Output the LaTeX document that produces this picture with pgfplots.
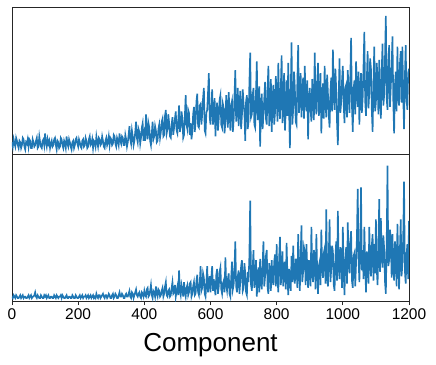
\documentclass[border=0pt]{standalone}
\usepackage{pgfplots}
\pgfplotsset{compat=1.18}
\usepackage{pgfplotstable}
\usepackage{fontspec}
\setmainfont{Liberation Sans}
\definecolor{tabblue}{RGB}{31,119,180}

% one value every 2.5 components, 0..1200
\pgfplotstableread[row sep=\\]{
y\\
0.08\\0.05\\0.10\\0.07\\0.05\\0.11\\0.09\\0.06\\0.04\\0.09\\0.08\\0.04\\0.06\\0.11\\0.10\\0.05\\0.03\\0.08\\0.07\\0.10\\
0.05\\0.10\\0.09\\0.04\\0.04\\0.10\\0.08\\0.05\\0.06\\0.09\\0.11\\0.04\\0.05\\0.12\\0.08\\0.05\\0.04\\0.09\\0.10\\0.06\\
0.14\\0.08\\0.05\\0.10\\0.07\\0.09\\0.04\\0.07\\0.09\\0.05\\0.06\\0.10\\0.11\\0.06\\0.03\\0.09\\0.08\\0.04\\0.05\\0.11\\
0.10\\0.06\\0.04\\0.09\\0.07\\0.04\\0.12\\0.07\\0.05\\0.10\\0.08\\0.05\\0.03\\0.08\\0.09\\0.04\\0.06\\0.10\\0.11\\0.07\\
0.05\\0.10\\0.08\\0.05\\0.04\\0.09\\0.10\\0.05\\0.06\\0.11\\0.09\\0.04\\0.05\\0.10\\0.12\\0.06\\0.07\\0.10\\0.04\\0.09\\
0.08\\0.05\\0.12\\0.08\\0.05\\0.11\\0.10\\0.06\\0.07\\0.12\\0.09\\0.05\\0.04\\0.09\\0.11\\0.06\\0.08\\0.12\\0.06\\0.11\\
0.10\\0.06\\0.07\\0.13\\0.12\\0.07\\0.05\\0.11\\0.09\\0.06\\0.14\\0.09\\0.07\\0.12\\0.11\\0.06\\0.06\\0.13\\0.10\\0.05\\
0.08\\0.13\\0.19\\0.10\\0.07\\0.16\\0.12\\0.06\\0.09\\0.15\\0.22\\0.11\\0.08\\0.17\\0.15\\0.07\\0.11\\0.18\\0.21\\0.09\\
0.14\\0.09\\0.27\\0.16\\0.10\\0.21\\0.18\\0.09\\0.06\\0.14\\0.22\\0.10\\0.12\\0.19\\0.16\\0.08\\0.09\\0.17\\0.20\\0.11\\
0.15\\0.22\\0.24\\0.12\\0.13\\0.26\\0.30\\0.14\\0.17\\0.27\\0.21\\0.12\\0.11\\0.20\\0.25\\0.13\\0.18\\0.24\\0.29\\0.16\\
0.14\\0.23\\0.33\\0.15\\0.19\\0.29\\0.24\\0.11\\0.13\\0.26\\0.40\\0.20\\0.17\\0.30\\0.28\\0.13\\0.21\\0.10\\0.15\\0.27\\
0.32\\0.15\\0.22\\0.36\\0.41\\0.19\\0.18\\0.33\\0.34\\0.20\\0.27\\0.38\\0.45\\0.16\\0.14\\0.28\\0.30\\0.42\\0.55\\0.25\\
0.20\\0.31\\0.44\\0.20\\0.26\\0.38\\0.12\\0.27\\0.35\\0.16\\0.24\\0.37\\0.40\\0.20\\0.18\\0.34\\0.31\\0.14\\0.22\\0.40\\
0.28\\0.18\\0.42\\0.30\\0.16\\0.33\\0.36\\0.15\\0.23\\0.40\\0.57\\0.22\\0.30\\0.45\\0.19\\0.31\\0.43\\0.17\\0.26\\0.44\\
0.34\\0.28\\0.09\\0.36\\0.40\\0.17\\0.22\\0.48\\0.69\\0.25\\0.27\\0.40\\0.45\\0.20\\0.18\\0.42\\0.63\\0.23\\0.30\\0.46\\
0.05\\0.30\\0.41\\0.17\\0.26\\0.38\\0.49\\0.24\\0.20\\0.44\\0.60\\0.19\\0.33\\0.51\\0.15\\0.36\\0.47\\0.20\\0.28\\0.53\\
0.38\\0.22\\0.62\\0.33\\0.24\\0.45\\0.67\\0.21\\0.35\\0.55\\0.16\\0.29\\0.50\\0.26\\0.62\\0.30\\0.04\\0.41\\0.76\\0.20\\
0.31\\0.56\\0.45\\0.22\\0.20\\0.49\\0.74\\0.28\\0.37\\0.55\\0.25\\0.42\\0.52\\0.24\\0.60\\0.35\\0.29\\0.50\\0.10\\0.36\\
0.45\\0.30\\0.22\\0.51\\0.38\\0.23\\0.69\\0.36\\0.27\\0.48\\0.62\\0.26\\0.33\\0.55\\0.14\\0.37\\0.48\\0.24\\0.60\\0.35\\
0.25\\0.54\\0.41\\0.26\\0.18\\0.43\\0.52\\0.29\\0.71\\0.40\\0.30\\0.58\\0.44\\0.21\\0.06\\0.39\\0.65\\0.28\\0.35\\0.50\\
0.60\\0.34\\0.21\\0.45\\0.47\\0.25\\0.57\\0.40\\0.28\\0.52\\0.79\\0.33\\0.15\\0.44\\0.50\\0.27\\0.63\\0.41\\0.32\\0.56\\
0.20\\0.44\\0.55\\0.28\\0.38\\0.60\\0.83\\0.36\\0.26\\0.51\\0.70\\0.31\\0.42\\0.65\\0.58\\0.30\\0.15\\0.48\\0.73\\0.29\\
0.35\\0.62\\0.50\\0.27\\0.64\\0.41\\0.24\\0.57\\0.75\\0.33\\0.40\\0.66\\0.94\\0.38\\0.30\\0.61\\0.74\\0.32\\0.46\\0.60\\
0.80\\0.36\\0.14\\0.47\\0.56\\0.29\\0.73\\0.42\\0.33\\0.61\\0.70\\0.35\\0.73\\0.40\\0.17\\0.52\\0.74\\0.38\\0.30\\0.55\\
0.58\\
}\topdata

\pgfplotstableread[row sep=\\]{
y\\
0.02\\0.01\\0.03\\0.02\\0.01\\0.03\\0.02\\0.01\\0.01\\0.02\\0.03\\0.01\\0.02\\0.03\\0.01\\0.02\\0.02\\0.01\\0.01\\0.02\\
0.03\\0.01\\0.02\\0.03\\0.01\\0.02\\0.02\\0.03\\0.05\\0.02\\0.01\\0.03\\0.02\\0.01\\0.01\\0.03\\0.02\\0.01\\0.01\\0.03\\
0.02\\0.03\\0.01\\0.02\\0.03\\0.01\\0.01\\0.02\\0.02\\0.01\\0.01\\0.03\\0.02\\0.01\\0.03\\0.02\\0.01\\0.02\\0.02\\0.03\\
0.01\\0.03\\0.02\\0.01\\0.01\\0.02\\0.03\\0.01\\0.01\\0.02\\0.02\\0.01\\0.01\\0.03\\0.02\\0.01\\0.01\\0.03\\0.02\\0.01\\
0.01\\0.02\\0.03\\0.01\\0.02\\0.03\\0.01\\0.02\\0.02\\0.03\\0.01\\0.02\\0.03\\0.01\\0.02\\0.03\\0.01\\0.02\\0.03\\0.01\\
0.02\\0.01\\0.04\\0.02\\0.01\\0.03\\0.03\\0.01\\0.02\\0.03\\0.04\\0.02\\0.01\\0.03\\0.03\\0.01\\0.02\\0.04\\0.03\\0.01\\
0.01\\0.03\\0.04\\0.01\\0.02\\0.04\\0.03\\0.01\\0.01\\0.03\\0.05\\0.02\\0.02\\0.04\\0.03\\0.01\\0.01\\0.03\\0.04\\0.02\\
0.02\\0.04\\0.06\\0.02\\0.01\\0.05\\0.04\\0.01\\0.03\\0.05\\0.07\\0.03\\0.02\\0.04\\0.05\\0.02\\0.01\\0.05\\0.04\\0.02\\
0.06\\0.03\\0.02\\0.07\\0.08\\0.02\\0.03\\0.06\\0.10\\0.03\\0.01\\0.06\\0.05\\0.02\\0.09\\0.04\\0.02\\0.07\\0.06\\0.02\\
0.03\\0.06\\0.08\\0.02\\0.04\\0.09\\0.12\\0.03\\0.02\\0.06\\0.07\\0.02\\0.03\\0.08\\0.12\\0.04\\0.05\\0.10\\0.02\\0.06\\
0.09\\0.03\\0.20\\0.06\\0.03\\0.10\\0.07\\0.02\\0.12\\0.05\\0.02\\0.08\\0.10\\0.03\\0.05\\0.11\\0.12\\0.02\\0.04\\0.09\\
0.12\\0.03\\0.04\\0.13\\0.17\\0.05\\0.03\\0.11\\0.23\\0.06\\0.08\\0.18\\0.15\\0.04\\0.02\\0.12\\0.23\\0.05\\0.10\\0.16\\
0.05\\0.15\\0.23\\0.06\\0.14\\0.08\\0.03\\0.17\\0.21\\0.04\\0.09\\0.19\\0.22\\0.07\\0.04\\0.11\\0.13\\0.05\\0.29\\0.10\\
0.06\\0.14\\0.18\\0.04\\0.02\\0.15\\0.26\\0.07\\0.10\\0.22\\0.40\\0.09\\0.05\\0.16\\0.20\\0.04\\0.12\\0.23\\0.27\\0.06\\
0.08\\0.25\\0.18\\0.05\\0.03\\0.19\\0.12\\0.30\\0.68\\0.10\\0.06\\0.22\\0.34\\0.08\\0.14\\0.27\\0.02\\0.15\\0.22\\0.05\\
0.28\\0.12\\0.07\\0.24\\0.40\\0.09\\0.16\\0.30\\0.34\\0.08\\0.04\\0.25\\0.20\\0.06\\0.27\\0.14\\0.10\\0.26\\0.31\\0.09\\
0.38\\0.14\\0.05\\0.29\\0.43\\0.10\\0.18\\0.33\\0.09\\0.22\\0.26\\0.07\\0.39\\0.17\\0.03\\0.21\\0.15\\0.06\\0.30\\0.12\\
0.37\\0.15\\0.11\\0.28\\0.24\\0.08\\0.45\\0.20\\0.06\\0.31\\0.51\\0.12\\0.19\\0.36\\0.33\\0.10\\0.38\\0.21\\0.08\\0.27\\
0.22\\0.09\\0.50\\0.18\\0.12\\0.34\\0.30\\0.07\\0.45\\0.19\\0.04\\0.23\\0.26\\0.10\\0.48\\0.21\\0.15\\0.32\\0.35\\0.11\\
0.62\\0.17\\0.09\\0.31\\0.55\\0.12\\0.21\\0.37\\0.33\\0.10\\0.06\\0.29\\0.40\\0.13\\0.61\\0.22\\0.14\\0.36\\0.28\\0.08\\
0.50\\0.20\\0.03\\0.27\\0.36\\0.11\\0.53\\0.24\\0.18\\0.40\\0.47\\0.13\\0.08\\0.30\\0.32\\0.09\\0.25\\0.42\\0.76\\0.28\\
0.12\\0.35\\0.77\\0.20\\0.34\\0.14\\0.50\\0.26\\0.05\\0.33\\0.29\\0.11\\0.50\\0.24\\0.16\\0.37\\0.45\\0.13\\0.38\\0.18\\
0.55\\0.21\\0.10\\0.36\\0.69\\0.19\\0.56\\0.30\\0.22\\0.44\\0.35\\0.12\\0.04\\0.38\\0.92\\0.23\\0.27\\0.48\\0.41\\0.15\\
0.45\\0.22\\0.13\\0.40\\0.33\\0.09\\0.52\\0.28\\0.07\\0.34\\0.55\\0.16\\0.24\\0.43\\0.81\\0.20\\0.11\\0.30\\0.38\\0.14\\
0.54\\
}\botdata

\begin{document}
\begin{tikzpicture}
\pgfplotsset{
    every axis/.style={
        scale only axis, width=397pt, height=147pt,
        xmin=0, xmax=1200, ymin=0, ymax=1,
        ytick=\empty,
        axis line style={black!85, line width=0.9pt},
    },
}
\begin{axis}[name=top, xtick=\empty]
\addplot[tabblue, line width=1.6pt] table[x expr=\coordindex*2.5, y=y] {\topdata};
\end{axis}
\begin{axis}[
    name=bot, at={(top.south west)}, anchor=north west,
    ymin=-0.01,
    xtick={0,200,...,1200},
    xtick pos=bottom, tick align=outside,
    major tick length=4pt,
    tick style={black!85, line width=0.9pt},
    ticklabel style={font=\fontsize{15.5}{18}\selectfont},
    /pgf/number format/assume math mode=true,
    /pgf/number format/set thousands separator={},
    xlabel={Component},
    xlabel style={font=\fontsize{26}{30}\selectfont, yshift=-7pt},
]
\addplot[tabblue, line width=1.6pt] table[x expr=\coordindex*2.5, y=y] {\botdata};
\end{axis}
\path ([xshift=-12pt,yshift=7pt]top.north west) rectangle ([xshift=27pt,yshift=-63pt]bot.south east);
\end{tikzpicture}
\end{document}
